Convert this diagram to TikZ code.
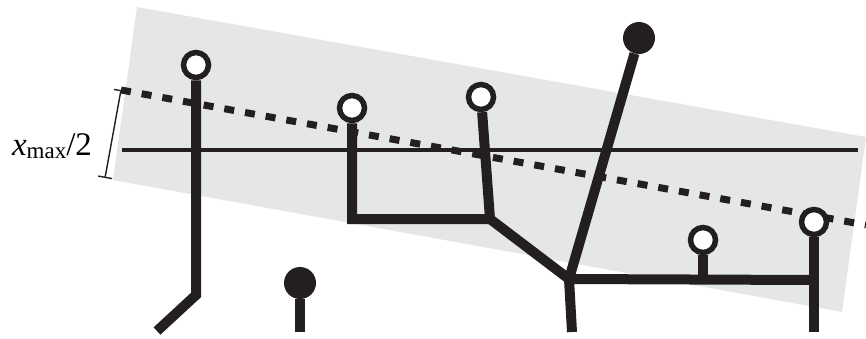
\documentclass[tikz,border=0pt]{standalone}
\usepackage{fontspec}
\setmainfont{Liberation Serif}
\usetikzlibrary{arrows.meta}
\definecolor{ink}{RGB}{35,31,32}
\definecolor{band}{RGB}{229,230,232}
\pgfdeclarelayer{bandlayer}
\pgfdeclarelayer{branchlayer}
\pgfsetlayers{bandlayer,branchlayer,main}
\begin{document}
\begin{tikzpicture}[x=1pt,y=-1pt,
  branch/.style={draw=ink,line width=10pt},
  opentip/.style={circle,draw=ink,fill=white,line width=5.5pt,inner sep=0pt,minimum size=25pt},
  filledtip/.style={circle,fill=ink,inner sep=0pt,minimum size=32pt},
  axis/.style={draw=ink,line width=4pt},
  fitline/.style={draw=ink,line width=7pt,dash pattern=on 10pt off 11pt},
  ruler/.style={draw=ink,line width=1.4pt,{Bar[width=14pt,line width=1.4pt]}-{Bar[width=14pt,line width=1.4pt]}},
  lab/.style={inner sep=0pt,font=\fontsize{33}{36}\selectfont}
]
\useasboundingbox (0,0) rectangle (866,338);
% tips
\node[opentip] (o1) at (196,65) {};
\node[filledtip] (f3) at (300,283) {};
\node[opentip] (o2) at (352,108) {};
\node[opentip] (o3) at (481,97) {};
\node[filledtip] (f4) at (639,38) {};
\node[opentip] (o4) at (703,240) {};
\node[opentip] (o5) at (814,222) {};
% joints
\coordinate (b1) at (196,295);
\coordinate (e1) at (157,331);
\coordinate (e2) at (300,332);
\coordinate (k1) at (352,219);
\coordinate (k2) at (490,219);
\coordinate (j) at (569,279);
\coordinate (e3) at (572,332);
\coordinate (k3) at (703,280);
\coordinate (k4) at (814,280);
\coordinate (e4) at (814,332);
% band, axis, fitted line
\begin{pgfonlayer}{bandlayer}
\fill[band] (137,7) -- (866,137) -- (842,312) -- (113,180) -- cycle;
\end{pgfonlayer}
\coordinate (a1) at (122,150);
\coordinate (a2) at (858,150);
\coordinate (f1) at (121,90);
\coordinate (f2) at (866,225);
\coordinate (r1) at (121,90);
\coordinate (r2) at (105,178);
\begin{pgfonlayer}{branchlayer}
\draw[axis] (a1) -- (a2);
\draw[fitline] (f1) -- (f2);
\draw[branch] (o1) -- (b1) -- (e1);
\draw[branch] (f3) -- (e2);
\draw[branch] (o2) -- (k1) -- (k2) -- (j) -- (e3);
\draw[branch] (o3) -- (k2);
\draw[branch] (f4) -- (j);
\draw[branch] (j) -- (k4);
\draw[branch] (o4) -- (k3);
\draw[branch] (o5) -- (e4);
\end{pgfonlayer}
% ruler and label
\draw[ruler] (r1) -- (r2);
\node[lab] (lbl) at (52,146) {\textit{x}\raisebox{-3pt}{\fontsize{23}{23}\selectfont max}/2};
\end{tikzpicture}
\end{document}
